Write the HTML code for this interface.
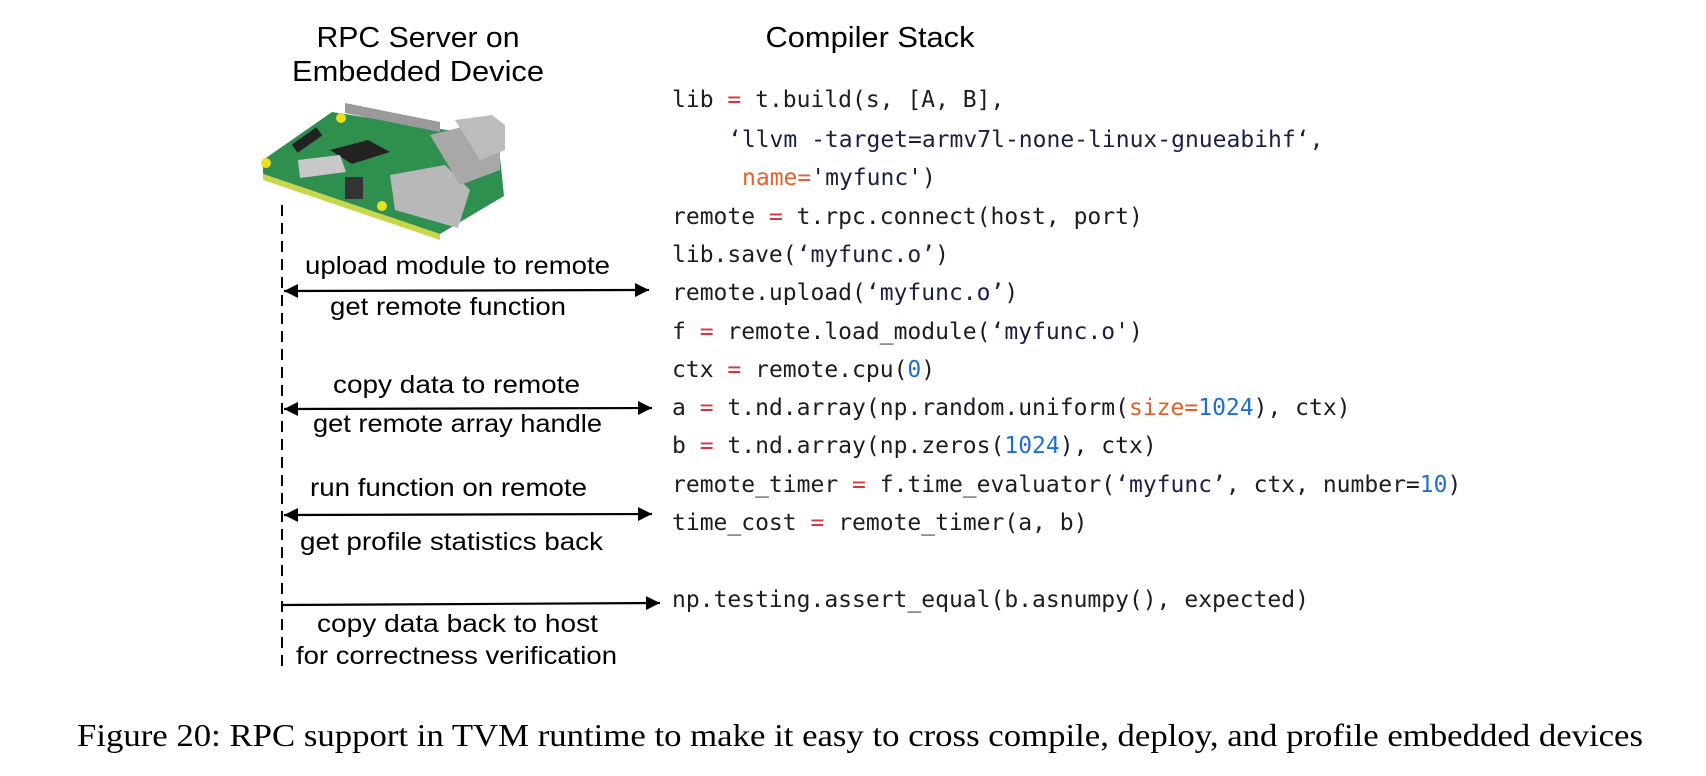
<!DOCTYPE html>
<html><head><meta charset="utf-8"><style>
html,body{margin:0;padding:0;background:#fff;}
svg{display:block;}
.c{font-family:"DejaVu Sans Mono","Liberation Mono",monospace;font-size:23px;fill:#1c1c24;}
.e{fill:#d8343f;}
.o{fill:#e2602a;}
.n{fill:#1f6fd0;}
.s{fill:#1a1f44;}
.l{font-family:"Liberation Sans",sans-serif;font-size:25px;fill:#000;}
.t{font-family:"Liberation Sans",sans-serif;font-size:29px;fill:#000;}
</style></head><body>
<svg width="1706" height="776" viewBox="0 0 1706 776" xmlns="http://www.w3.org/2000/svg">
<defs>
<marker id="a" viewBox="0 0 10 10" refX="10" refY="5" markerWidth="20" markerHeight="14" markerUnits="userSpaceOnUse" orient="auto-start-reverse"><path d="M0,0 L10,5 L0,10 z" fill="#000"/></marker>
</defs>
<text class="t" x="418" y="47" text-anchor="middle" textLength="203" lengthAdjust="spacingAndGlyphs">RPC Server on</text>
<text class="t" x="418" y="81" text-anchor="middle" textLength="252" lengthAdjust="spacingAndGlyphs">Embedded Device</text>
<text class="t" x="870" y="47" text-anchor="middle" textLength="209" lengthAdjust="spacingAndGlyphs">Compiler Stack</text>

<!-- raspberry pi -->
<g>
<polygon points="263,160 332,112 498,138 504,196 440,234 263,174" fill="#2f8f4f"/>
<polygon points="263,174 440,234 440,240 263,180" fill="#c9d64a"/>
<circle cx="341" cy="118" r="5" fill="#e8e020"/>
<circle cx="266" cy="163" r="5" fill="#e8e020"/>
<circle cx="382" cy="206" r="5" fill="#e8e020"/>
<polygon points="345,103 440,122 440,132 345,113" fill="#9a9a9a"/>
<polygon points="330,150 368,140 390,152 352,164" fill="#222"/>
<polygon points="298,160 340,155 346,172 300,178" fill="#c8c8c8"/>
<polygon points="390,175 445,165 470,190 458,228 395,210" fill="#b8b8b8"/>
<polygon points="430,135 470,125 500,140 500,170 460,185" fill="#a8a8a8"/>
<polygon points="455,120 492,115 505,125 505,150 480,160" fill="#bdbdbd"/>
<rect x="345" y="177" width="18" height="22" fill="#333"/>
<rect x="292" y="135" width="30" height="10" fill="#222" transform="rotate(-35 307 140)"/>
</g>

<line x1="282" y1="205" x2="282" y2="668" stroke="#000" stroke-width="2" stroke-dasharray="11,7"/>

<line x1="284" y1="291" x2="649" y2="290" stroke="#000" stroke-width="2.2" marker-start="url(#a)" marker-end="url(#a)"/>
<line x1="284" y1="409" x2="652" y2="408" stroke="#000" stroke-width="2.2" marker-start="url(#a)" marker-end="url(#a)"/>
<line x1="284" y1="515" x2="652" y2="514" stroke="#000" stroke-width="2.2" marker-start="url(#a)" marker-end="url(#a)"/>
<line x1="282" y1="605" x2="660" y2="603" stroke="#000" stroke-width="2.2" marker-end="url(#a)"/>

<text class="l" x="305" y="274" textLength="305" lengthAdjust="spacingAndGlyphs">upload module to remote</text>
<text class="l" x="330" y="315" textLength="236" lengthAdjust="spacingAndGlyphs">get remote function</text>
<text class="l" x="333" y="393" textLength="247" lengthAdjust="spacingAndGlyphs">copy data to remote</text>
<text class="l" x="313" y="432" textLength="289" lengthAdjust="spacingAndGlyphs">get remote array handle</text>
<text class="l" x="310" y="496" textLength="277" lengthAdjust="spacingAndGlyphs">run function on remote</text>
<text class="l" x="300" y="550" textLength="303" lengthAdjust="spacingAndGlyphs">get profile statistics back</text>
<text class="l" x="317" y="632" textLength="281" lengthAdjust="spacingAndGlyphs">copy data back to host</text>
<text class="l" x="296" y="664" textLength="321" lengthAdjust="spacingAndGlyphs">for correctness verification</text>

<g class="c" dominant-baseline="central">
<text x="672" y="100">lib <tspan class="e">=</tspan> t.build(s, [A, B],</text>
<text x="728" y="140"><tspan class="s">‘llvm -target=armv7l-none-linux-gnueabihf‘</tspan>,</text>
<text x="742" y="178"><tspan class="o">name=</tspan><tspan class="s">'myfunc'</tspan>)</text>
<text x="672" y="217">remote <tspan class="e">=</tspan> t.rpc.connect(host, port)</text>
<text x="672" y="255">lib.save(<tspan class="s">‘myfunc.o’</tspan>)</text>
<text x="672" y="293">remote.upload(<tspan class="s">‘myfunc.o’</tspan>)</text>
<text x="672" y="332">f <tspan class="e">=</tspan> remote.load_module(<tspan class="s">‘myfunc.o'</tspan>)</text>
<text x="672" y="370">ctx <tspan class="e">=</tspan> remote.cpu(<tspan class="n">0</tspan>)</text>
<text x="672" y="408">a <tspan class="e">=</tspan> t.nd.array(np.random.uniform(<tspan class="o">size=</tspan><tspan class="n">1024</tspan>), ctx)</text>
<text x="672" y="446">b <tspan class="e">=</tspan> t.nd.array(np.zeros(<tspan class="n">1024</tspan>), ctx)</text>
<text x="672" y="485">remote_timer <tspan class="e">=</tspan> f.time_evaluator(<tspan class="s">‘myfunc’</tspan>, ctx, number=<tspan class="n">10</tspan>)</text>
<text x="672" y="523">time_cost <tspan class="e">=</tspan> remote_timer(a, b)</text>
<text x="672" y="600">np.testing.assert_equal(b.asnumpy(), expected)</text>
</g>

<text x="77" y="746" font-family="'Liberation Serif',serif" font-size="32" fill="#000" textLength="1566" lengthAdjust="spacingAndGlyphs">Figure 20: RPC support in TVM runtime to make it easy to cross compile, deploy, and profile embedded devices</text>
</svg>
</body></html>
